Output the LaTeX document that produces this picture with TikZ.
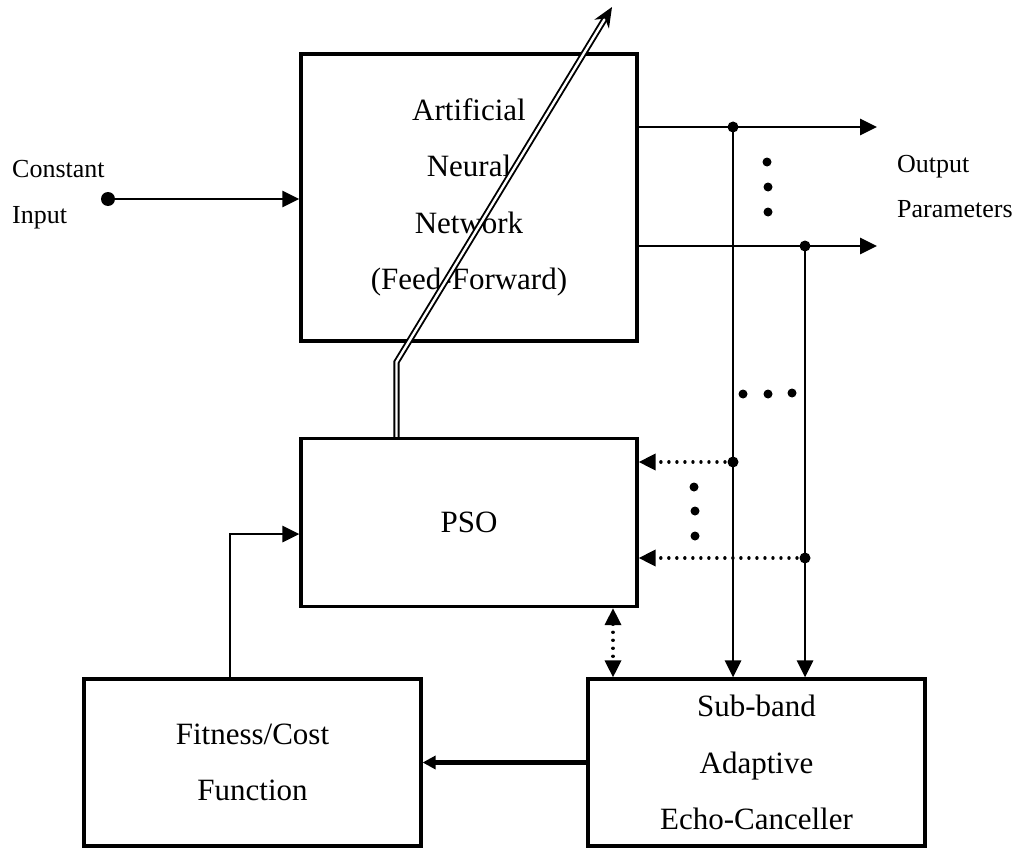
\documentclass[tikz,border=0pt]{standalone}
\usepackage{fontspec}
\setmainfont{Liberation Serif}
\usepackage{tikz}
\usetikzlibrary{calc, arrows.meta}

\tikzset{
  block/.style={draw, line width=3.2pt, align=center, inner sep=0pt,
    font=\fontsize{31}{56.5}\selectfont},
  small/.style={font=\fontsize{26}{30}\selectfont, inner sep=0pt},
  flow/.style={line width=2.9pt, -{Triangle[length=17pt,width=16pt]}},
  dotflow/.style={line width=3.4pt, line cap=round, dash pattern=on 0.01pt off 8pt,
    -{Triangle[length=17pt,width=16pt,line cap=butt]}},
}

\begin{document}
\begin{tikzpicture}[x=1pt, y=-1pt]
  \useasboundingbox (0,0) rectangle (1019,848);
  % ブロック
  \node[block, minimum width=336pt, minimum height=287pt] (ann) at (469,197.5)
    {Artificial\\Neural\\Network\\(Feed-Forward)};
  \node[block, minimum width=336pt, minimum height=168pt] (pso) at (469,522.5) {PSO};
  \node[block, minimum width=337pt, minimum height=167pt] (fitness) at (252.5,762.5)
    {Fitness/Cost\\Function};
  \node[block, minimum width=337pt, minimum height=167pt] (canceller) at (756.5,762.5)
    {Sub-band\\Adaptive\\Echo-Canceller};

  % 入力
  \coordinate (in) at (108,199);
  \fill (in) circle (7);
  \draw[flow] (in) -- (in -| ann.west);
  \node[small, anchor=base west] (c1) at (12,177) {Constant};
  \node[small, anchor=base west] (c2) at (12,223) {Input};

  % 出力
  \coordinate (o1) at (877,127);
  \coordinate (o2) at (877,246);
  \coordinate (j1) at (733,127);
  \coordinate (j2) at (805,246);
  \draw[flow] (o1 -| ann.east) -- (o1);
  \draw[flow] (o2 -| ann.east) -- (o2);
  \node[small, anchor=base west] (p1) at (897,172) {Output};
  \node[small, anchor=base west] (p2) at (897,217) {Parameters};
  \draw[flow] (j1) -- (j1 |- canceller.north);
  \draw[flow] (j2) -- (j2 |- canceller.north);

  % 帰還 (点線)
  \coordinate (k1) at (733,462);
  \coordinate (k2) at (805,558);
  \draw[dotflow] (k1) -- (k1 -| pso.east);
  \draw[dotflow] (k2) -- (k2 -| pso.east);
  \foreach \P in {j1,j2,k1,k2} \fill (\P) circle (5.5);

  % 省略記号
  \foreach \P in {(767,162),(768,187),(768,212),(743,394),(768,394),(792,393),
    (694,487),(695,511),(695,536)} \fill \P circle (4.5);

  % PSO と Echo-Canceller
  \coordinate (m) at (613,0);
  \draw[dotflow, {Triangle[length=17pt,width=16pt,line cap=butt]}-{Triangle[length=17pt,width=16pt,line cap=butt]}]
    (m |- pso.south) -- (m |- canceller.north);

  % 評価関数 -> PSO
  \coordinate (f) at (230,534);
  \draw[flow] (f |- fitness.north) -- (f) -- (f -| pso.west);
  \draw[line width=5pt, -{Triangle[length=13pt,width=13pt]}] (canceller.west) -- (fitness.east);

  % 重み更新
  \coordinate (w1) at (396.5,362);
  \coordinate (w2) at (612,7);
  \draw[double, double distance=2.4pt, line width=1.9pt, -{Stealth[length=20pt,width=17pt]}]
    (w1 |- pso.north) -- (w1) -- (w2);
\end{tikzpicture}
\end{document}
